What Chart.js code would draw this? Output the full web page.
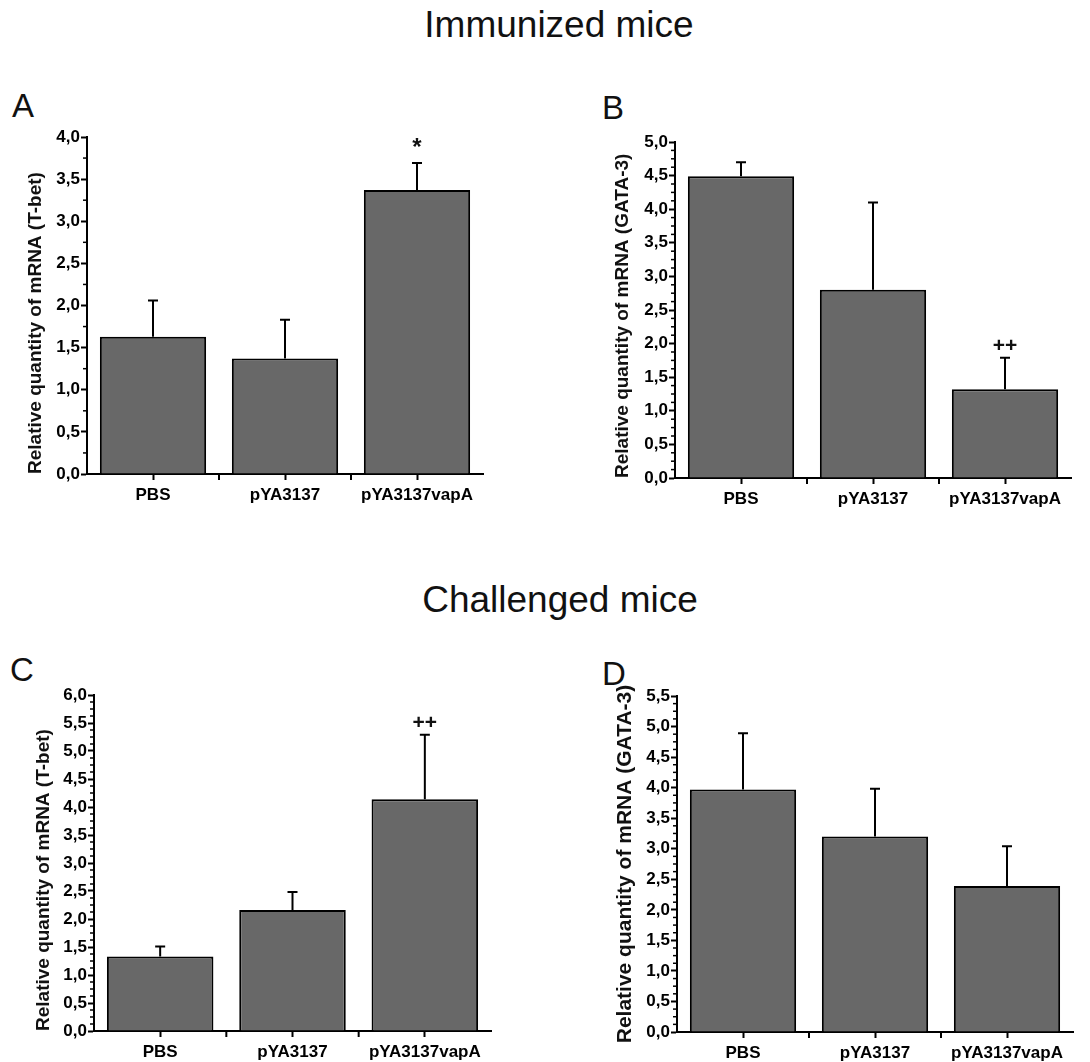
<!DOCTYPE html>
<html>
<head>
<meta charset="utf-8">
<script src="https://cdn.jsdelivr.net/npm/chart.js@4.4.0/dist/chart.umd.min.js"></script>
<style>
  body { margin:0; background:#fff; width:1090px; height:1062px; position:relative; overflow:hidden;
         font-family:"Liberation Sans", Arial, sans-serif; }
  .head { position:absolute; font-size:37px; line-height:37px; transform:translateX(-50%); white-space:nowrap; color:#111; }
  .letter { position:absolute; font-size:33px; line-height:33px; color:#111; }
  canvas { position:absolute; }
</style>
</head>
<body>
<div class="head" style="left:559px;top:6px">Immunized mice</div>
<div class="head" style="left:560px;top:581px">Challenged mice</div>
<div class="letter" style="left:12px;top:89px">A</div>
<div class="letter" style="left:602px;top:91px">B</div>
<div class="letter" style="left:10px;top:653px">C</div>
<div class="letter" style="left:602px;top:657px">D</div>

<canvas id="chartA" width="545" height="400" style="left:0;top:120px"></canvas>
<canvas id="chartB" width="545" height="400" style="left:545px;top:120px"></canvas>
<canvas id="chartC" width="545" height="402" style="left:0;top:660px"></canvas>
<canvas id="chartD" width="545" height="402" style="left:545px;top:660px"></canvas>

<script>
const categories = ["PBS", "pYA3137", "pYA3137vapA"];

// immunized mice
const tbetImmunized = [1.63, 1.37, 3.37];
const tbetImmunizedSd = [0.43, 0.46, 0.32];
const gataImmunized = [4.49, 2.80, 1.32];
const gataImmunizedSd = [0.21, 1.30, 0.47];

// challenged mice
const tbetChallenged = [1.33, 2.16, 4.14];
const tbetChallengedSd = [0.18, 0.32, 1.15];
const gataChallenged = [3.97, 3.20, 2.39];
const gataChallengedSd = [0.92, 0.78, 0.65];

const marksA = ["", "", "*"];
const marksB = ["", "", "++"];
const marksC = ["", "", "++"];
const marksD = ["", "", ""];

const titleTbet = "Relative quantity of mRNA (T-bet)";
const titleGata = "Relative quantity of mRNA (GATA-3)";

const FONT = "Liberation Sans";

function extras(sd, marks, minorStep) {
  return {
    id: "extras",
    afterDatasetsDraw(chart) {
      const ctx = chart.ctx, x = chart.scales.x, y = chart.scales.y;
      const means = chart.data.datasets[0].data;
      const area = chart.chartArea;
      ctx.save();
      ctx.strokeStyle = "#000";
      ctx.fillStyle = "#111";
      ctx.lineWidth = 2;
      means.forEach((m, i) => {
        const px = x.getPixelForValue(i);
        const top = y.getPixelForValue(m + sd[i]);
        ctx.beginPath();
        ctx.moveTo(px, y.getPixelForValue(m));
        ctx.lineTo(px, top);
        ctx.moveTo(px - 5, top);
        ctx.lineTo(px + 5, top);
        ctx.stroke();
        if (marks[i]) {
          const star = marks[i] === "*";
          ctx.font = "bold " + (star ? 24 : 21) + "px " + FONT;
          ctx.textAlign = "center";
          ctx.textBaseline = "alphabetic";
          ctx.fillText(marks[i], px, top - (star ? 8 : 6));
        }
      });
      // minor ticks on y
      ctx.lineWidth = 1.5;
      for (let v = 0; v <= y.max + 1e-9; v += minorStep) {
        if (Math.abs(v / 0.5 - Math.round(v / 0.5)) < 1e-6) continue;
        const py = y.getPixelForValue(v);
        ctx.beginPath();
        ctx.moveTo(area.left - 4, py);
        ctx.lineTo(area.left, py);
        ctx.stroke();
      }
      // ticks between categories on x
      ctx.lineWidth = 2;
      for (let i = 0; i < means.length - 1; i++) {
        const px = (x.getPixelForValue(i) + x.getPixelForValue(i + 1)) / 2;
        ctx.beginPath();
        ctx.moveTo(px, area.bottom);
        ctx.lineTo(px, area.bottom + 6);
        ctx.stroke();
      }
      ctx.restore();
    }
  };
}

function makePanel(id, values, sd, marks, yMax, minorStep, title, g) {
  new Chart(document.getElementById(id), {
    type: "bar",
    data: {
      labels: categories,
      datasets: [{
        data: values,
        backgroundColor: "#686868",
        borderColor: "#000",
        borderWidth: 2,
        barPercentage: 0.805,
        categoryPercentage: 1
      }]
    },
    options: {
      responsive: false,
      animation: false,
      layout: { padding: { left: 0, top: g.top, right: g.right, bottom: 0 } },
      plugins: { legend: { display: false }, tooltip: { enabled: false } },
      scales: {
        x: {
          offset: true,
          z: 1,
          ticks: { color: "#000", padding: 5, maxRotation: 0, autoSkip: false,
                   font: { family: FONT, size: 17, weight: "bold" } },
          grid: { display: true, offset: false, drawOnChartArea: false, drawTicks: true,
                  tickLength: 6, tickColor: "#000", tickWidth: 2 },
          border: { display: true, color: "#000", width: 2 },
          afterFit: s => { s.height = g.xh; }
        },
        y: {
          min: 0,
          max: yMax,
          ticks: { stepSize: 0.5, color: "#000", padding: 1,
                   font: { family: FONT, size: 17, weight: "bold" },
                   callback: v => v.toFixed(1).replace(".", ",") },
          grid: { display: true, drawOnChartArea: false, drawTicks: true,
                  tickLength: 6, tickColor: "#000", tickWidth: 2 },
          border: { display: true, color: "#000", width: 2 },
          title: { display: true, text: title, color: "#111", align: g.align,
                   font: { family: FONT, size: g.ts, weight: "bold" },
                   padding: { top: g.tp, bottom: 0 } },
          afterFit: s => { s.width = g.yw; }
        }
      }
    },
    plugins: [extras(sd, marks, minorStep)]
  });
}

makePanel("chartA", tbetImmunized, tbetImmunizedSd, marksA, 4.0, 0.25, titleTbet,
  { top: 17, right: 62, xh: 46, yw: 87, tp: 24.5, ts: 19, align: "start" });
makePanel("chartB", gataImmunized, gataImmunizedSd, marksB, 5.0, 0.125, titleGata,
  { top: 22, right: 19, xh: 42, yw: 130, tp: 66.5, ts: 19, align: "start" });
makePanel("chartC", tbetChallenged, tbetChallengedSd, marksC, 6.0, 0.125, titleTbet,
  { top: 35, right: 54, xh: 31, yw: 94, tp: 32, ts: 19, align: "start" });
makePanel("chartD", gataChallenged, gataChallengedSd, marksD, 5.5, 0.125, titleGata,
  { top: 36, right: 17, xh: 30, yw: 132, tp: 67.5, ts: 21, align: "center" });
</script>
</body>
</html>
